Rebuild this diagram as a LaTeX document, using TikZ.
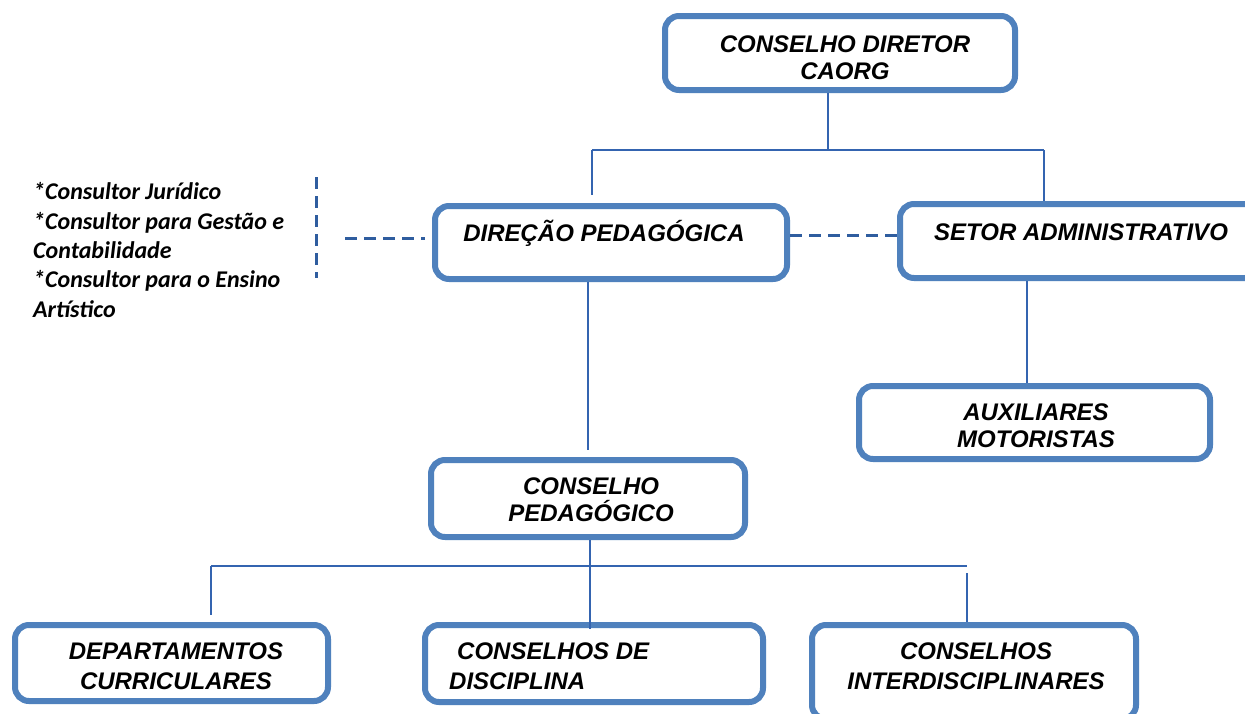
\documentclass[tikz,border=0pt]{standalone}
\usepackage{fontspec}
\setmainfont{Liberation Sans}
\newfontfamily\calibrifont{Carlito}
\usetikzlibrary{calc,positioning}

\definecolor{boxblue}{HTML}{4F81BD}
\definecolor{linkblue}{HTML}{3464B0}
\definecolor{dashblue}{HTML}{2F5D9F}

\tikzset{
  orgbox/.style={draw=boxblue,line width=6pt,rounded corners=14pt,fill=white,inner sep=0pt},
  boxtext/.style={font=\bfseries\itshape\fontsize{24}{27}\selectfont,align=center,inner sep=0pt,anchor=base},
  lowtext/.style={boxtext,font=\bfseries\itshape\fontsize{24}{30}\selectfont},
  link/.style={draw=linkblue,line width=1.3pt},
  dashlink/.style={draw=dashblue,line width=3pt,dash pattern=on 12pt off 7pt}
}

\begin{document}
\begin{tikzpicture}[x=1pt,y=-1pt]

\clip (0,0) rectangle (1245,713);
\fill[white] (0,0) rectangle (1245,713);

% The boxes
\node[orgbox,minimum width=350,minimum height=74] (cd) at (840,53) {};
\node[orgbox,minimum width=352,minimum height=73] (dp) at (611,242.5) {};
\node[orgbox,minimum width=359,minimum height=74] (sa) at (1079.5,241) {};
\node[orgbox,minimum width=351,minimum height=73] (aux) at (1034.5,422.5) {};
\node[orgbox,minimum width=314,minimum height=77] (cp) at (588,498.5) {};
\node[orgbox,minimum width=313,minimum height=76] (dc) at (171.5,663) {};
\node[orgbox,minimum width=338,minimum height=77] (cdisc) at (594,663.5) {};
\node[orgbox,minimum width=324,minimum height=94] (ci) at (974,672) {};

% Box texts (base = last line)
\node[boxtext] (cd-text) at (845,79) {CONSELHO DIRETOR\\CAORG};
\node[boxtext] (dp-text) at (604,241) {DIREÇÃO PEDAGÓGICA};
\node[boxtext] (sa-text) at (1081,240) {SETOR ADMINISTRATIVO};
\node[boxtext] (aux-text) at (1036,447) {AUXILIARES\\MOTORISTAS};
\node[boxtext] (cp-text) at (591,521) {CONSELHO\\PEDAGÓGICO};
\node[lowtext] (dc-text) at (176,689) {DEPARTAMENTOS\\CURRICULARES};
\node[lowtext,align=left,anchor=base west] (cdisc-text) at (449,689) {\hspace{8pt}CONSELHOS DE\\DISCIPLINA};
\node[lowtext] (ci-text) at (976,689) {CONSELHOS\\INTERDISCIPLINARES};

% The consultants
\node[font=\calibrifont\bfseries\itshape\fontsize{24}{29.3}\selectfont,align=left,inner sep=0pt,anchor=base west] (cons) at (33,317)
  {*Consultor Jurídico\\*Consultor para Gestão e\\Contabilidade\\*Consultor para o Ensino\\Artístico};

% Junction points
\coordinate (t1) at (828,150);
\coordinate (tl) at (592,150);
\coordinate (tr) at (1044,150);
\coordinate (sx) at (1027,0);
\coordinate (bx) at (590,566);
\coordinate (bl) at (211,566);
\coordinate (br) at (967,566);

% The links
\draw[link] (cd.south -| t1) -- (t1);
\draw[link] (tl) -- (tr);
\draw[link,shorten >=8pt] (tl) -- (tl |- dp.north);
\draw[link] (tr) -- (tr |- sa.north);
\draw[link,shorten >=7pt] (dp.south -| cp.north) -- (cp.north);
\draw[link] (sa.south -| sx) -- (aux.north -| sx);
\draw[link] (cp.south -| bx) -- ($(cdisc.north -| bx)+(0,7)$);
\draw[link] (bl) -- (br);
\draw[link,shorten >=7pt] (bl) -- (bl |- dc.north);
\draw[link,shorten <=7pt] (br) -- (br |- ci.north);

% The dashed links
\coordinate (dy) at (0,235);
\coordinate (ly) at (345,238);
\coordinate (vt) at (316,177);
\coordinate (vb) at (316,278);
\draw[dashlink] (dp.east |- dy) -- (sa.west |- dy);
\draw[dashlink,shorten >=7pt] (ly) -- (dp.west |- ly);
\draw[dashlink] (vt) -- (vb);

\end{tikzpicture}
\end{document}
